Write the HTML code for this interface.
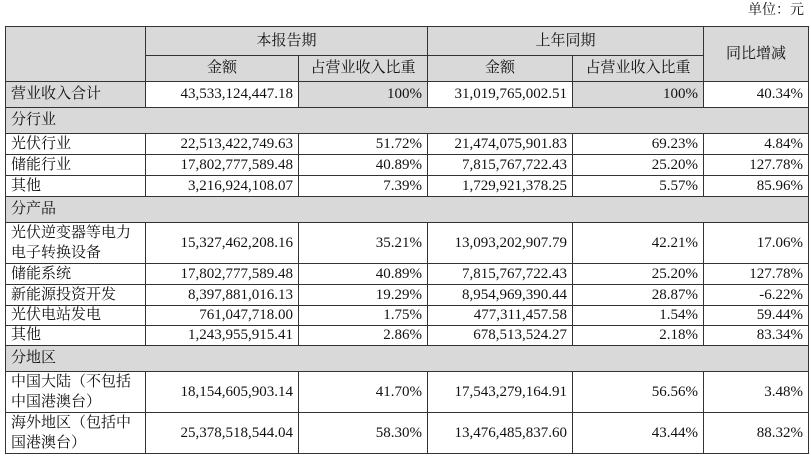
<!DOCTYPE html>
<html><head><meta charset="utf-8"><style>
body{margin:0;width:811px;height:456px;background:#fff;overflow:hidden;font-family:"Liberation Serif","Noto Serif CJK SC",serif;color:#111;}
.u{position:absolute;left:748px;top:-1px;font-size:14px;white-space:nowrap;font-family:"Liberation Serif","Noto Serif CJK SC",serif;}
table{position:absolute;left:5px;top:26px;border-collapse:collapse;table-layout:fixed;font-size:15px;}
td{border:1.5px solid #333;padding:0 5px;white-space:nowrap;line-height:19px;}
.g{background:#d9d9d9;}
.c{text-align:center;}
.r{text-align:right;}
.l{text-align:left;line-height:20px;}
</style></head><body>
<div class="u">单位：元</div>
<table>
<colgroup><col style="width:140px"><col style="width:153px"><col style="width:129px"><col style="width:145px"><col style="width:131px"><col style="width:105px"></colgroup>
<tr style="height:29px"><td class="g" rowspan="2"></td><td class="g c" colspan="2">本报告期</td><td class="g c" colspan="2">上年同期</td><td class="g c" rowspan="2">同比增减</td></tr>
<tr style="height:26px"><td class="g c">金额</td><td class="g c">占营业收入比重</td><td class="g c">金额</td><td class="g c">占营业收入比重</td></tr>
<tr style="height:26px"><td class="g">营业收入合计</td><td class="r">43,533,124,447.18</td><td class="g r">100%</td><td class="r">31,019,765,002.51</td><td class="g r">100%</td><td class="r">40.34%</td></tr>
<tr style="height:26px"><td class="g" colspan="6">分行业</td></tr>
<tr style="height:21px"><td>光伏行业</td><td class="r">22,513,422,749.63</td><td class="r">51.72%</td><td class="r">21,474,075,901.83</td><td class="r">69.23%</td><td class="r">4.84%</td></tr>
<tr style="height:21px"><td>储能行业</td><td class="r">17,802,777,589.48</td><td class="r">40.89%</td><td class="r">7,815,767,722.43</td><td class="r">25.20%</td><td class="r">127.78%</td></tr>
<tr style="height:21px"><td>其他</td><td class="r">3,216,924,108.07</td><td class="r">7.39%</td><td class="r">1,729,921,378.25</td><td class="r">5.57%</td><td class="r">85.96%</td></tr>
<tr style="height:26px"><td class="g" colspan="6">分产品</td></tr>
<tr style="height:40px"><td class="l">光伏逆变器等电力<br>电子转换设备</td><td class="r">15,327,462,208.16</td><td class="r">35.21%</td><td class="r">13,093,202,907.79</td><td class="r">42.21%</td><td class="r">17.06%</td></tr>
<tr style="height:21px"><td>储能系统</td><td class="r">17,802,777,589.48</td><td class="r">40.89%</td><td class="r">7,815,767,722.43</td><td class="r">25.20%</td><td class="r">127.78%</td></tr>
<tr style="height:21px"><td>新能源投资开发</td><td class="r">8,397,881,016.13</td><td class="r">19.29%</td><td class="r">8,954,969,390.44</td><td class="r">28.87%</td><td class="r">-6.22%</td></tr>
<tr style="height:20px"><td>光伏电站发电</td><td class="r">761,047,718.00</td><td class="r">1.75%</td><td class="r">477,311,457.58</td><td class="r">1.54%</td><td class="r">59.44%</td></tr>
<tr style="height:19px"><td>其他</td><td class="r">1,243,955,915.41</td><td class="r">2.86%</td><td class="r">678,513,524.27</td><td class="r">2.18%</td><td class="r">83.34%</td></tr>
<tr style="height:26px"><td class="g" colspan="6">分地区</td></tr>
<tr style="height:41px"><td class="l">中国大陆（不包括<br>中国港澳台）</td><td class="r">18,154,605,903.14</td><td class="r">41.70%</td><td class="r">17,543,279,164.91</td><td class="r">56.56%</td><td class="r">3.48%</td></tr>
<tr style="height:40px"><td class="l">海外地区（包括中<br>国港澳台）</td><td class="r">25,378,518,544.04</td><td class="r">58.30%</td><td class="r">13,476,485,837.60</td><td class="r">43.44%</td><td class="r">88.32%</td></tr>
</table>
</body></html>
